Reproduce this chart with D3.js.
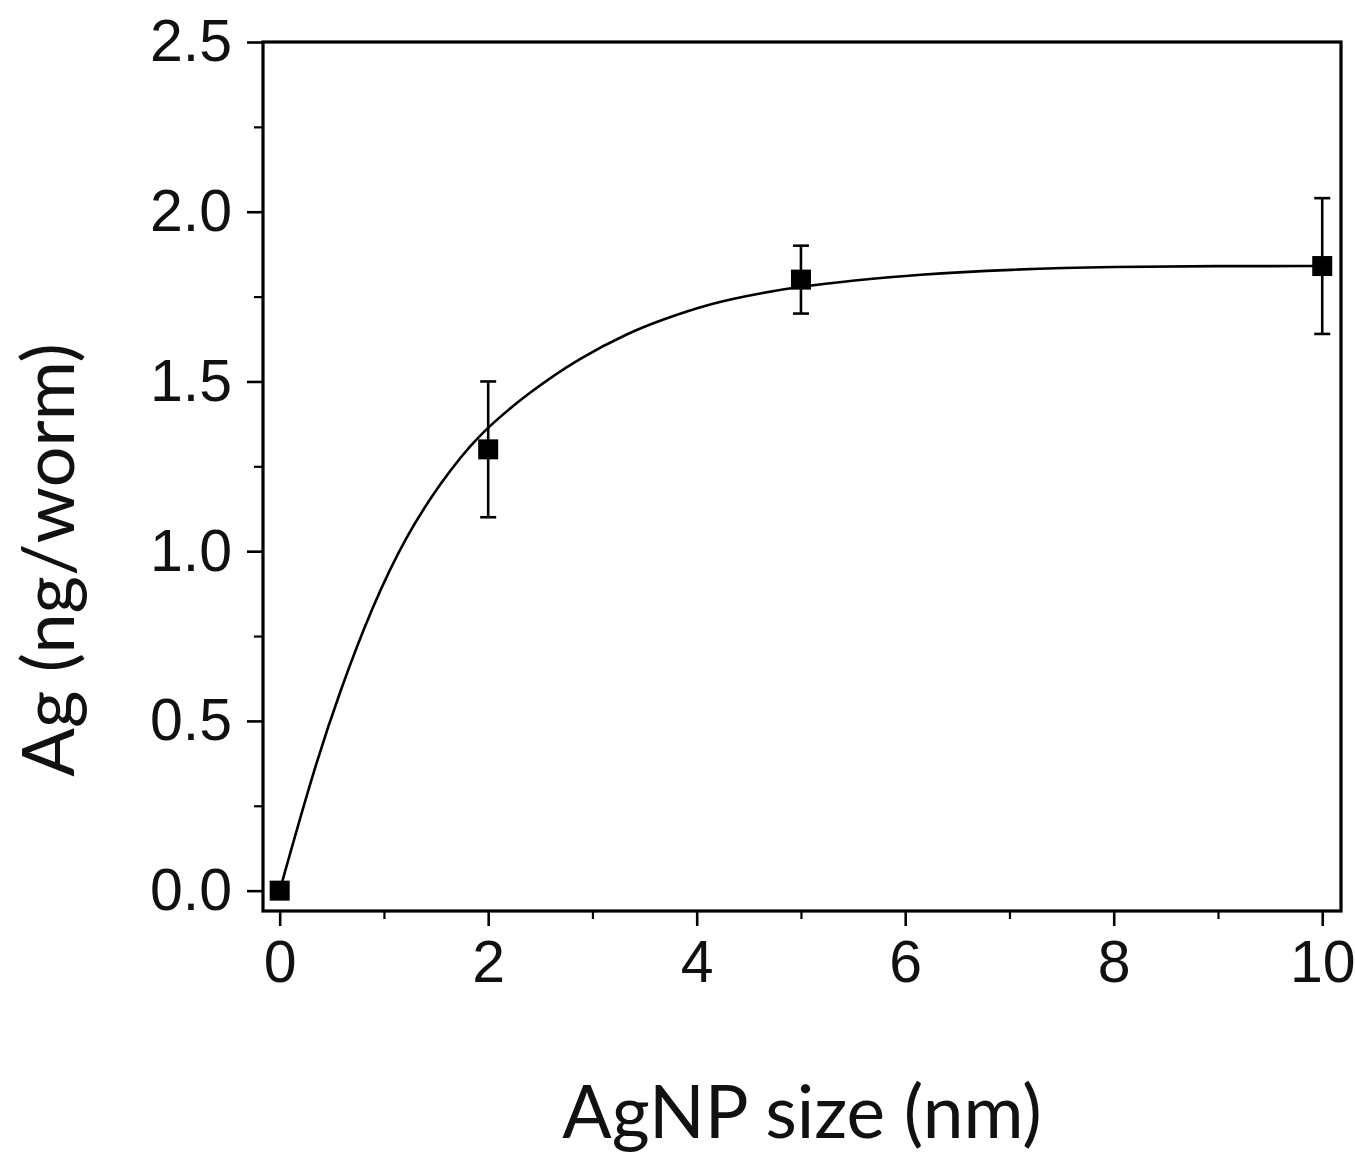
<!DOCTYPE html>
<html>
<head>
<meta charset="utf-8">
<script src="https://cdn.jsdelivr.net/npm/d3@7.9.0/dist/d3.min.js"></script>
<style>
  body { margin: 0; background: #fff; }
</style>
</head>
<body>
<div id="chart"></div>
<script>
// measured points
const sizes = [0, 2, 5, 10];
const agValues = [0, 1.30, 1.80, 1.84];
const agErrors = [0, 0.20, 0.10, 0.20];

// fitted curve
const fitX = [0, 0.32, 0.58, 0.89, 1.22, 1.54, 1.89, 2.40, 2.88, 3.36, 3.65, 4.13, 4.61, 5.0, 5.5, 6.1, 7.0, 8.0, 9.0, 10.0];
const fitY = [0, 0.35, 0.59, 0.84, 1.05, 1.20, 1.34, 1.47, 1.57, 1.645, 1.68, 1.73, 1.76, 1.78, 1.797, 1.815, 1.83, 1.838, 1.84, 1.84];

const xTicks = [0, 2, 4, 6, 8, 10];
const xMinorTicks = [1, 3, 5, 7, 9];
const yTicks = [0, 0.5, 1.0, 1.5, 2.0, 2.5];
const yMinorTicks = [0.25, 0.75, 1.25, 1.75, 2.25];

const width = 1355, height = 1154;
const plotLeft = 263, plotRight = 1341, plotTop = 42, plotBottom = 911;

let svg = d3.select("#chart")
    .append("svg")
    .attr("width", width)
    .attr("height", height);

svg.append("rect").attr("width", width).attr("height", height).attr("fill", "#fff");

let x = d3.scaleLinear().domain([-0.16, 10.18]).range([plotLeft, plotRight]);
let y = d3.scaleLinear().domain([-0.06, 2.5]).range([plotBottom, plotTop]);

// curve (behind the markers)
let line = d3.line()
    .x((d, i) => x(fitX[i]))
    .y((d, i) => y(fitY[i]))
    .curve(d3.curveBasis);

svg.append("path")
    .attr("d", line(fitX))
    .attr("fill", "none")
    .attr("stroke", "#000")
    .attr("stroke-width", 2.6);

// minor ticks
svg.append("g")
    .attr("transform", `translate(0,${plotBottom})`)
    .call(d3.axisBottom(x).tickValues(xMinorTicks).tickSize(8).tickFormat(""))
    .call(g => g.select(".domain").remove())
    .call(g => g.selectAll("line").attr("stroke-width", 2.2));

svg.append("g")
    .attr("transform", `translate(${plotLeft},0)`)
    .call(d3.axisLeft(y).tickValues(yMinorTicks).tickSize(9).tickFormat(""))
    .call(g => g.select(".domain").remove())
    .call(g => g.selectAll("line").attr("stroke-width", 2.2));

// major axes
let xAxis = svg.append("g")
    .attr("transform", `translate(0,${plotBottom})`)
    .call(d3.axisBottom(x).tickValues(xTicks).tickSize(15).tickPadding(14).tickFormat(d3.format("d")));

let yAxis = svg.append("g")
    .attr("transform", `translate(${plotLeft},0)`)
    .call(d3.axisLeft(y).tickValues(yTicks).tickSize(16).tickPadding(15).tickFormat(d3.format(".1f")));

[xAxis, yAxis].forEach(g => {
    g.select(".domain").remove();
    g.selectAll("line").attr("stroke", "#000").attr("stroke-width", 2.6);
    g.selectAll("text")
        .attr("fill", "#111")
        .style("font-family", "'Liberation Sans', Arial, sans-serif")
        .style("font-size", "59px");
});

// frame
svg.append("rect")
    .attr("x", plotLeft)
    .attr("y", plotTop)
    .attr("width", plotRight - plotLeft)
    .attr("height", plotBottom - plotTop)
    .attr("fill", "none")
    .attr("stroke", "#000")
    .attr("stroke-width", 3.2);

// error bars
let pts = sizes.map((s, i) => ({ s: s, v: agValues[i], e: agErrors[i] }));

let bars = svg.append("g").selectAll("g")
    .data(pts.filter(d => d.e > 0))
    .join("g")
    .attr("stroke", "#000")
    .attr("stroke-width", 2.6);

bars.append("line")
    .attr("x1", d => x(d.s)).attr("x2", d => x(d.s))
    .attr("y1", d => y(d.v + d.e)).attr("y2", d => y(d.v - d.e));
bars.append("line")
    .attr("x1", d => x(d.s) - 8).attr("x2", d => x(d.s) + 8)
    .attr("y1", d => y(d.v + d.e)).attr("y2", d => y(d.v + d.e));
bars.append("line")
    .attr("x1", d => x(d.s) - 8).attr("x2", d => x(d.s) + 8)
    .attr("y1", d => y(d.v - d.e)).attr("y2", d => y(d.v - d.e));

// square markers
svg.append("g").selectAll("rect")
    .data(pts)
    .join("rect")
    .attr("x", d => x(d.s) - 10)
    .attr("y", d => y(d.v) - 10)
    .attr("width", 20)
    .attr("height", 20)
    .attr("fill", "#000");

// axis titles
svg.append("text")
    .attr("x", (plotLeft + plotRight) / 2)
    .attr("y", 1138)
    .attr("text-anchor", "middle")
    .style("font-family", "Lato, 'Open Sans', sans-serif")
    .style("font-size", "73px")
    .attr("fill", "#111")
    .text("AgNP size (nm)");

svg.append("text")
    .attr("transform", "translate(74,560) rotate(-90)")
    .attr("text-anchor", "middle")
    .style("font-family", "Lato, 'Open Sans', sans-serif")
    .style("font-size", "72px")
    .attr("fill", "#111")
    .text("Ag (ng/worm)");
</script>
</body>
</html>
